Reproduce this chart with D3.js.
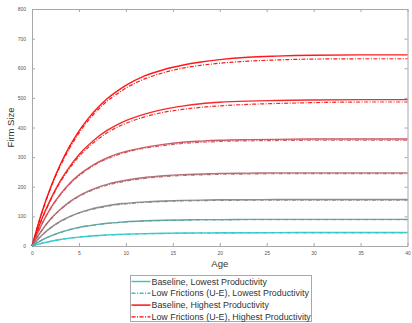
<!DOCTYPE html>
<html>
<head>
<meta charset="utf-8">
<script src="https://cdn.jsdelivr.net/npm/d3@7"></script>
<style>
  body { margin: 0; background: #fff; }
  text { font-family: "Liberation Sans", Arial, sans-serif; }
</style>
</head>
<body>
<div id="chart"></div>
<script>
//-------------------------------------
// data
//-------------------------------------
var ages = [0, 1, 2, 3, 4, 5, 6, 7, 8, 9, 10, 12, 14, 16, 18, 20, 23, 26, 30, 35, 40];

// baseline (solid), from highest to lowest productivity
var base_1 = [0, 109, 199, 274, 336, 388, 431, 467, 497, 521, 542, 574, 595, 610, 621, 629, 637, 641, 644, 645, 645];
var base_2 = [0, 88, 159, 219, 267, 308, 340, 368, 390, 408, 423, 445, 461, 472, 480, 485, 489, 491, 493, 494, 494];
var base_3 = [0, 71, 129, 174, 211, 240, 263, 282, 297, 310, 319, 333, 343, 350, 354, 357, 359, 360, 361, 361, 361];
var base_4 = [0, 51, 92, 123, 149, 169, 185, 198, 208, 216, 222, 231, 237, 241, 243, 245, 246, 247, 247, 247, 247];
var base_5 = [0, 35, 62, 83, 99, 112, 122, 130, 136, 141, 144, 149, 152, 154, 155, 156, 156, 157, 157, 157, 157];
var base_6 = [0, 19, 34, 46, 55, 63, 68, 73, 77, 79, 82, 85, 87, 88, 89, 89, 90, 90, 90, 90, 90];
var base_7 = [0, 9, 16, 22, 26.5, 30, 33, 35.5, 37.4, 38.9, 40.1, 41.9, 43, 43.7, 44.2, 44.6, 44.9, 45.2, 45.4, 45.5, 45.5];

// low frictions (U-E), dash-dot
var low_1 = [0, 107, 196, 269, 330, 381, 424, 459, 489, 512, 533, 564, 585, 600, 610, 617, 624, 628, 631, 632, 632];
var low_2 = [0, 86, 156, 215, 262, 302, 333, 360, 382, 400, 414, 436, 451, 461, 468, 473, 478, 481, 484, 486, 486];
var low_3 = [0, 70, 127, 172, 208, 237, 260, 279, 294, 306, 316, 330, 339, 346, 350, 353, 355, 356, 357, 357, 357];
var low_4 = [0, 50, 90, 122, 147, 167, 183, 195, 205, 213, 219, 228, 234, 238, 240, 242, 243, 244, 244, 244, 244];
var low_5 = [0, 34, 61, 82, 98, 111, 120, 128, 134, 139, 142, 147, 150, 152, 153, 154, 154.5, 155, 155, 155, 155];
var low_6 = [0, 19, 34, 45, 55, 62, 68, 72, 76, 79, 81, 84, 86, 87, 88, 88, 89, 89, 89, 89, 89];
var low_7 = [0, 8.8, 15.8, 21.4, 25.9, 29.5, 32.4, 34.7, 36.6, 38.1, 39.2, 41, 42, 42.7, 43.2, 43.6, 43.9, 44.1, 44.3, 44.4, 44.4];

var colors = ["#ff0000", "#f41414", "#cc4a55", "#aa6468", "#8a8088", "#5a9e9e", "#2ec8c8"];

var x_ticks = [0, 5, 10, 15, 20, 25, 30, 35, 40];
var y_ticks = [0, 100, 200, 300, 400, 500, 600, 700, 800];

var legend_labels = [
	"Baseline, Lowest Productivity",
	"Low Frictions (U-E), Lowest Productivity",
	"Baseline, Highest Productivity",
	"Low Frictions (U-E), Highest Productivity"
];

var baseline = [base_1, base_2, base_3, base_4, base_5, base_6, base_7];
var lowfric = [low_1, low_2, low_3, low_4, low_5, low_6, low_7];

//-------------------------------------
// field
//-------------------------------------
var width = 412;
var height = 323;
var plot = { left: 32, right: 407.5, top: 9, bottom: 246 };
var dashdot = "4,1.5,1,1.5";

var svg = d3.select("#chart")
	.append("svg")
	.attr("width", width)
	.attr("height", height)
	.style("background", "#fff");

var x = d3.scaleLinear().domain([0, 40]).range([plot.left, plot.right]);
var y = d3.scaleLinear().domain([0, 800]).range([plot.bottom, plot.top]);

// axes (ticks inside, matlab style)
var axisColor = "#a8a8a8";

function styleAxis(g, hideLabels) {
	g.select(".domain").attr("stroke", axisColor).attr("stroke-width", 1);
	g.selectAll(".tick line").attr("stroke", axisColor);
	g.selectAll(".tick text")
		.attr("fill", "#555")
		.style("font-size", "5px");
	if (hideLabels) g.selectAll(".tick text").remove();
}

svg.append("g")
	.attr("transform", "translate(0," + plot.bottom + ")")
	.call(d3.axisBottom(x).tickValues(x_ticks).tickSize(-3).tickPadding(5).tickSizeOuter(0))
	.call(styleAxis, false);

svg.append("g")
	.attr("transform", "translate(0," + plot.top + ")")
	.call(d3.axisTop(x).tickValues(x_ticks).tickSize(-3).tickSizeOuter(0))
	.call(styleAxis, true);

svg.append("g")
	.attr("transform", "translate(" + plot.left + ",0)")
	.call(d3.axisLeft(y).tickValues(y_ticks).tickSize(-3).tickPadding(6).tickSizeOuter(0))
	.call(styleAxis, false);

svg.append("g")
	.attr("transform", "translate(" + plot.right + ",0)")
	.call(d3.axisRight(y).tickValues(y_ticks).tickSize(-3).tickSizeOuter(0))
	.call(styleAxis, true);

// axis titles
svg.append("text")
	.attr("x", (plot.left + plot.right) / 2)
	.attr("y", 267)
	.attr("text-anchor", "middle")
	.attr("fill", "#333")
	.style("font-size", "9.5px")
	.text("Age");

svg.append("text")
	.attr("transform", "translate(14," + ((plot.top + plot.bottom) / 2) + ") rotate(-90)")
	.attr("text-anchor", "middle")
	.attr("fill", "#333")
	.style("font-size", "9.5px")
	.text("Firm Size");

//-------------------------------------
// lines
//-------------------------------------
var line = d3.line()
	.x(function(d, i) { return x(ages[i]); })
	.y(function(d) { return y(d); })
	.curve(d3.curveMonotoneX);

var lines = svg.append("g");

lowfric.forEach(function(s, k) {
	lines.append("path")
		.attr("d", line(s))
		.attr("fill", "none")
		.attr("stroke", colors[k])
		.attr("stroke-width", 1.2)
		.attr("stroke-dasharray", dashdot)
		.attr("opacity", 0.9);
});

baseline.forEach(function(s, k) {
	lines.append("path")
		.attr("d", line(s))
		.attr("fill", "none")
		.attr("stroke", colors[k])
		.attr("stroke-width", 1.4)
		.attr("opacity", 0.9);
});

//-------------------------------------
// legend
//-------------------------------------
var legend = svg.append("g");
var lg = { x: 130.5, y: 275.5, w: 181, h: 46 };

legend.append("rect")
	.attr("x", lg.x)
	.attr("y", lg.y)
	.attr("width", lg.w)
	.attr("height", lg.h)
	.attr("fill", "#fff")
	.attr("stroke", "#a8a8a8")
	.attr("stroke-width", 1);

var legend_colors = [colors[6], colors[6], colors[0], colors[0]];
var legend_dash = [null, dashdot, null, dashdot];

legend_labels.forEach(function(t, i) {
	var ly = lg.y + 6 + i * 11.8;
	legend.append("line")
		.attr("x1", lg.x + 1)
		.attr("x2", lg.x + 20)
		.attr("y1", ly)
		.attr("y2", ly)
		.attr("stroke", legend_colors[i])
		.attr("stroke-width", 1.4)
		.attr("stroke-dasharray", legend_dash[i]);
	legend.append("text")
		.attr("x", lg.x + 21)
		.attr("y", ly + 3)
		.attr("fill", "#333")
		.style("font-size", "8.9px")
		.text(t);
});
</script>
</body>
</html>
